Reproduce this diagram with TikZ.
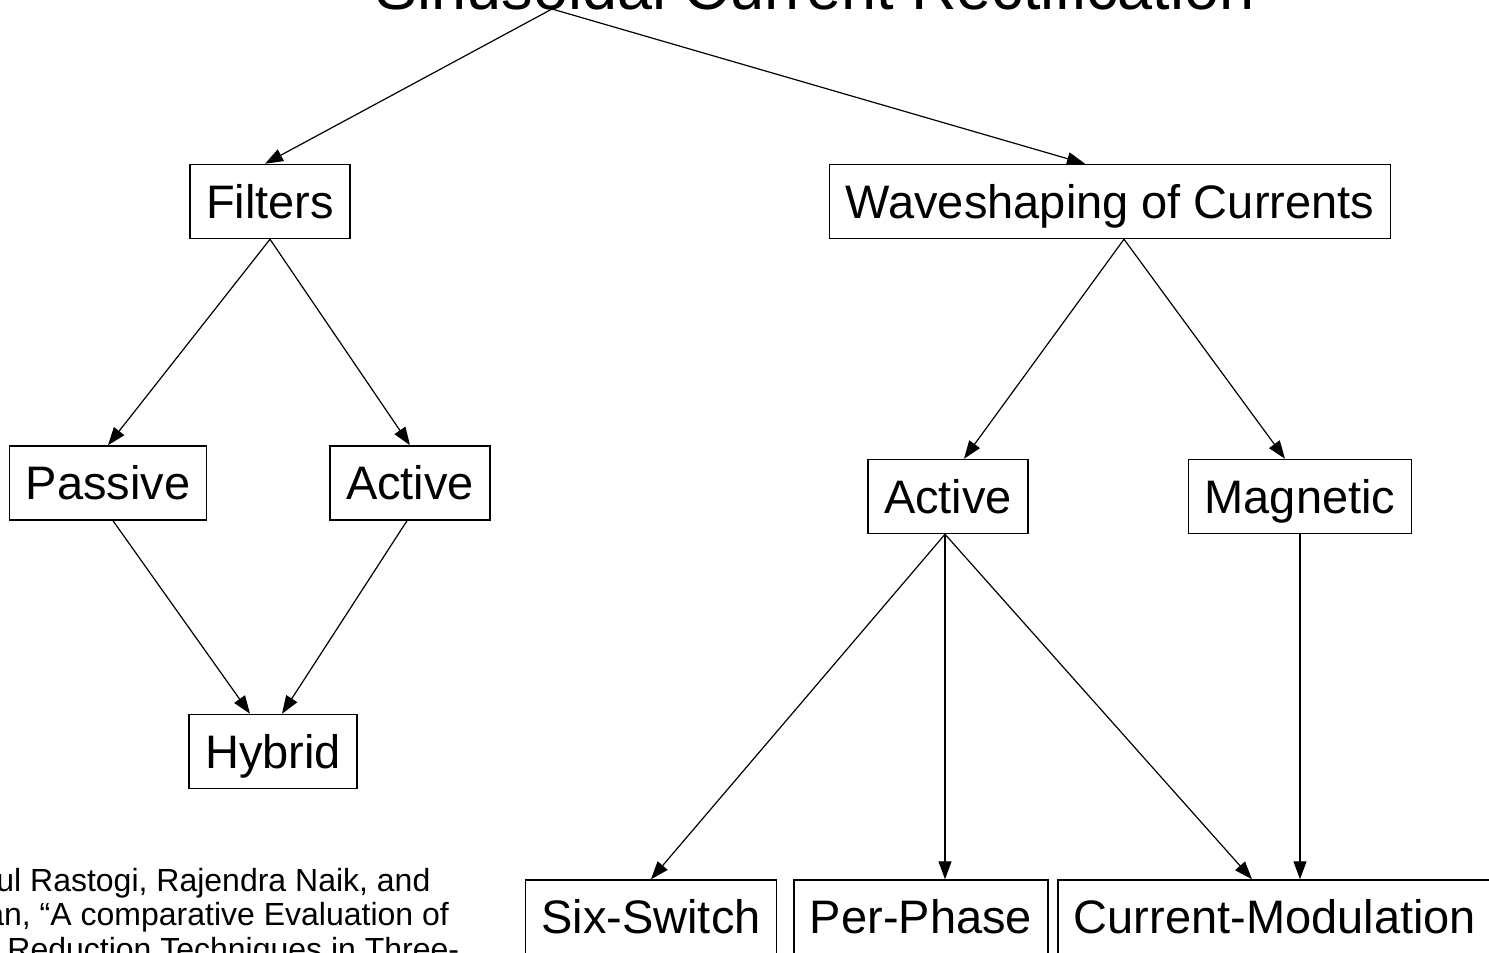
\documentclass[tikz,border=0pt]{standalone}
\usepackage{fontspec}
\setmainfont{Liberation Sans}
\usepackage{tikz}
\usetikzlibrary{arrows.meta, calc}
\usepackage{xcolor}

\tikzset{
  boxnode/.style={draw, line width=0.75pt, inner xsep=8pt, inner ysep=0pt,
    minimum height=37pt, text height=16.8pt, text depth=0pt,
    font=\fontsize{23.5}{28}\selectfont},
  link/.style={-{Triangle[length=9pt,width=6.5pt]}, line width=0.6pt},
  refline/.style={anchor=base west, inner sep=0pt, font=\fontsize{16}{18}\selectfont},
}

\begin{document}
\begin{tikzpicture}[x=0.5pt, y=-0.5pt]
\useasboundingbox (0,0) rectangle (1489,953);
\clip (0,0) rectangle (1489,953);
% title, cut at the top
\node[anchor=base, inner sep=0pt, font=\fontsize{31.5}{36}\selectfont] (title) at (815,10) {Sinusoidal Current Rectification};
\coordinate (top) at (552,9);
% boxes
\node[boxnode] (filt) at (270,201.5) {Filters};
\node[boxnode] (wave) at (1110,201.5) {Waveshaping of Currents};
\node[boxnode] (pass) at (108,483) {Passive};
\node[boxnode] (actf) at (410,483) {Active};
\node[boxnode] (hyb) at (273,751.5) {Hybrid};
\node[boxnode] (actw) at (948,496.5) {Active};
\node[boxnode] (magn) at (1300,496.5) {Magnetic};
\node[boxnode] (sixsw) at (651,917) {Six-Switch};
\node[boxnode] (perph) at (921,917) {Per-Phase};
\node[boxnode] (curmod) at (1275,917) {Current-Modulation};
% arrows
\draw[link] (top) -- ([xshift=-2.5pt]filt.north);
\draw[link] (top) -- ([xshift=-12.5pt]wave.north);
\draw[link] (filt.south) -- (pass.north);
\draw[link] (filt.south) -- (actf.north);
\draw[link] ([xshift=2.5pt]pass.south) -- ([xshift=-11.5pt]hyb.north);
\draw[link] ([xshift=-1.5pt]actf.south) -- ([xshift=4.5pt]hyb.north);
\draw[link] ([xshift=7pt]wave.south) -- ([xshift=8pt]actw.north);
\draw[link] ([xshift=7pt]wave.south) -- ([xshift=-7.5pt]magn.north);
\draw[link] ([xshift=-1.5pt]actw.south) -- (sixsw.north);
\draw[link] ([xshift=-1.5pt]actw.south) -- ([xshift=-1.5pt]actw.south |- perph.north);
\draw[link] ([xshift=-1.5pt]actw.south) -- ([xshift=-11.5pt]curmod.north);
\draw[link] (magn.south) -- (magn.south |- curmod.north);
% reference, cut at the left
\node[refline] (ref1) at (-4,891) {ul Rastogi, Rajendra Naik, and};
\node[refline] (ref2) at (-14,925) {an, “A comparative Evaluation of};
\node[refline] (ref3) at (7,960) {Reduction Techniques in Three-};
\end{tikzpicture}
\end{document}
